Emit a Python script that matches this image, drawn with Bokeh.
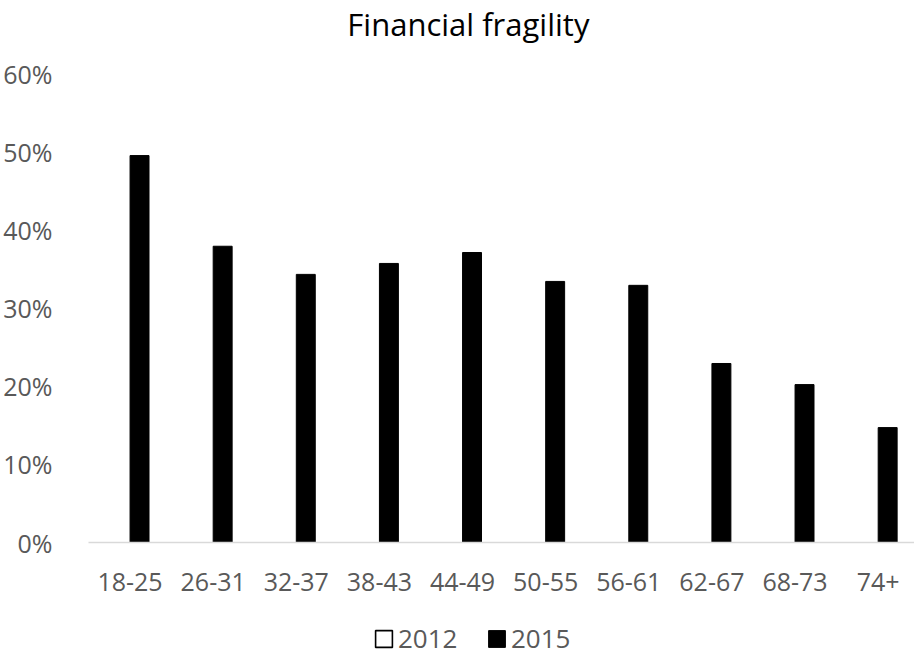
from bokeh.plotting import figure
from bokeh.layouts import column
from bokeh.models import (ColumnDataSource, Range1d, FixedTicker, NumeralTickFormatter,
                          Legend, LegendItem, Label)
from bokeh.transform import dodge
from bokeh.embed import file_html
from bokeh.resources import INLINE

# ---- data ----
age_groups = ["18-25", "26-31", "32-37", "38-43", "44-49",
              "50-55", "56-61", "62-67", "68-73", "74+"]
fragility_2015 = [0.495, 0.379, 0.343, 0.357, 0.371,
                  0.334, 0.329, 0.229, 0.202, 0.147]
y_ticks = [0.0, 0.1, 0.2, 0.3, 0.4, 0.5, 0.6]
series_names = ["2012", "2015"]
title_text = "Financial fragility"

FONT = "Open Sans"
GRAY = "#595959"

idx = list(range(len(age_groups)))
src = ColumnDataSource(dict(x=idx, v2015=fragility_2015))

# y range extends above 60% so that the title fits inside the (invisible) frame top
p = figure(width=914, height=600, output_backend="svg", toolbar_location=None,
           x_range=Range1d(-0.5, 9.437), y_range=Range1d(0, 0.6 * 542 / 469),
           min_border_left=84, min_border_right=0, min_border_top=0,
           min_border_bottom=58, background_fill_color="white",
           border_fill_color="white", outline_line_color=None)

bar_w = 0.228
r15 = p.vbar(x=dodge("x", 0.114), top="v2015", width=bar_w, source=src,
             fill_color="black", line_color="black")

p.xgrid.visible = False
p.ygrid.visible = False

# y axis
p.yaxis.ticker = FixedTicker(ticks=y_ticks)
p.yaxis.formatter = NumeralTickFormatter(format="0%")
p.yaxis.axis_line_color = None
p.yaxis.major_tick_line_color = None
p.yaxis.minor_tick_line_color = None
p.yaxis.major_label_standoff = 30
p.yaxis.major_label_text_font = FONT
p.yaxis.major_label_text_font_size = "25px"
p.yaxis.major_label_text_color = GRAY

# x axis
p.xaxis.ticker = FixedTicker(ticks=idx)
p.xaxis.major_label_overrides = {i: lab for i, lab in zip(idx, age_groups)}
p.xaxis.axis_line_color = "#d9d9d9"
p.xaxis.axis_line_width = 1.5
p.xaxis.major_tick_line_color = None
p.xaxis.minor_tick_line_color = None
p.xaxis.major_label_standoff = 24
p.xaxis.major_label_text_font = FONT
p.xaxis.major_label_text_font_size = "25px"
p.xaxis.major_label_text_color = GRAY

# title
p.add_layout(Label(x=4.07, y=0.6 + 50 / 782.0, text=title_text, text_align="center",
                   text_baseline="alphabetic", text_font=FONT,
                   text_font_size="31px", text_color="black"))

# ---- legend strip below the chart ----
lg = figure(width=914, height=56, output_backend="svg", toolbar_location=None,
            x_range=Range1d(-0.5, 9.437), y_range=Range1d(100, 101),
            x_axis_type=None, y_axis_type=None,
            min_border_left=84, min_border_right=0, min_border_top=0,
            min_border_bottom=0, outline_line_color=None,
            background_fill_color="white", border_fill_color="white")
lg.xgrid.visible = False
lg.ygrid.visible = False
# legend keys only (renderers hidden); the 2012 series is white / invisible in the reference
k12 = lg.vbar(x="x", top="v2015", width=bar_w, source=src, fill_color="white",
              line_color="black", line_width=1.6, visible=False)
k15 = lg.vbar(x="x", top="v2015", width=bar_w, source=src,
              fill_color="black", line_color="black", visible=False)

legend = Legend(items=[LegendItem(label=series_names[0], renderers=[k12]),
                       LegendItem(label=series_names[1], renderers=[k15])],
                orientation="horizontal", location=(285, 0),
                glyph_width=21, glyph_height=21, label_standoff=4,
                spacing=24, label_width=64, padding=0, margin=0,
                border_line_color=None, background_fill_alpha=0,
                inactive_fill_alpha=0,
                label_text_font=FONT, label_text_font_size="26px",
                label_text_color=GRAY)
lg.add_layout(legend)

layout = column(p, lg, spacing=0)
open("out.html", "w").write(file_html(layout, INLINE))
